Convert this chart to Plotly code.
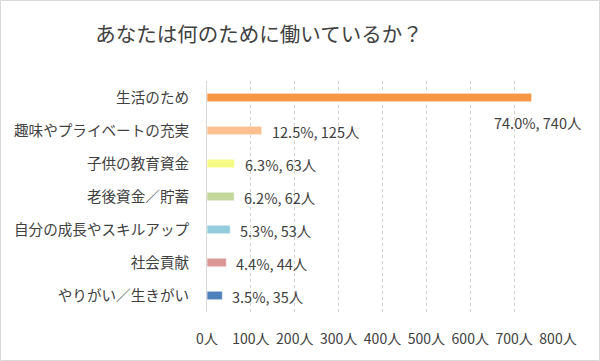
import plotly.graph_objects as go

categories = ["生活のため", "趣味やプライベートの充実", "子供の教育資金", "老後資金／貯蓄",
              "自分の成長やスキルアップ", "社会貢献", "やりがい／生きがい"]
counts = [740, 125, 63, 62, 53, 44, 35]
percents = [74.0, 12.5, 6.3, 6.2, 5.3, 4.4, 3.5]
colors = ["#F79646", "#FAC090", "#F6FB84", "#C3D69B", "#93CDDD", "#D99694", "#4F81BD"]
tick_vals = [0, 100, 200, 300, 400, 500, 600, 700, 800]
tick_text = [f"{v}人" for v in tick_vals]

FONT = "Noto Sans CJK JP"
TXT = "#404040"

W, H = 600, 361
L, R, T, B = 207, 42, 81, 49

fig = go.Figure()
fig.add_trace(go.Bar(
    x=counts, y=categories, orientation="h",
    marker=dict(color=colors, line=dict(color="rgba(255,255,255,0.6)", width=1)),
    width=0.26, hoverinfo="skip",
))

annotations = []
for i, (c, n, p) in enumerate(zip(categories, counts, percents)):
    label = f"{p:.1f}%, {n}人"
    if i == 0:
        annotations.append(dict(x=n, y=c, text=label, showarrow=False, xanchor="center",
                                yanchor="middle", xshift=6, yshift=-25,
                                font=dict(family=FONT, size=14.5, color=TXT)))
    else:
        annotations.append(dict(x=n, y=c, text=label, showarrow=False, xanchor="left",
                                yanchor="middle", xshift=8, yshift=-1,
                                font=dict(family=FONT, size=14.5, color=TXT)))

pw = W - L - R
ph = H - T - B
x0 = (0.5 - L) / pw
x1 = (W - 0.5 - L) / pw
y0 = -(B - 0.5) / ph
y1 = 1 + (T - 0.5) / ph

fig.update_layout(
    width=W, height=H,
    margin=dict(l=L, r=R, t=T, b=B, autoexpand=False),
    paper_bgcolor="white", plot_bgcolor="white",
    title=dict(text="あなたは何のために働いているか？", x=259 / W, xref="container", xanchor="center",
               y=1 - 35 / H, yref="container", yanchor="middle",
               font=dict(family=FONT, size=20.5, color=TXT)),
    xaxis=dict(range=[0, 800], tickvals=tick_vals, ticktext=tick_text,
               showgrid=True, gridcolor="#D0D0D0", griddash="dot", gridwidth=1,
               zeroline=False, showline=False, ticks="outside", ticklen=14,
               tickcolor="rgba(0,0,0,0)", automargin=False,
               tickfont=dict(family=FONT, size=14, color=TXT), fixedrange=True),
    yaxis=dict(categoryorder="array", categoryarray=categories, range=[6.5, -0.5],
               autorange=False, automargin=False, fixedrange=True,
               showgrid=False, zeroline=False, showline=True, linecolor="#D9D9D9",
               ticks="outside", ticklen=14, tickcolor="rgba(0,0,0,0)",
               tickfont=dict(family=FONT, size=14.6, color=TXT)),
    showlegend=False,
    annotations=annotations,
    shapes=[dict(type="rect", xref="paper", yref="paper", x0=x0, x1=x1, y0=y0, y1=y1,
                 line=dict(color="#D9D9D9", width=1), layer="below")],
)

fig.write_html("out.html", config={"displayModeBar": False},
               post_script="document.body.style.margin='0';")
